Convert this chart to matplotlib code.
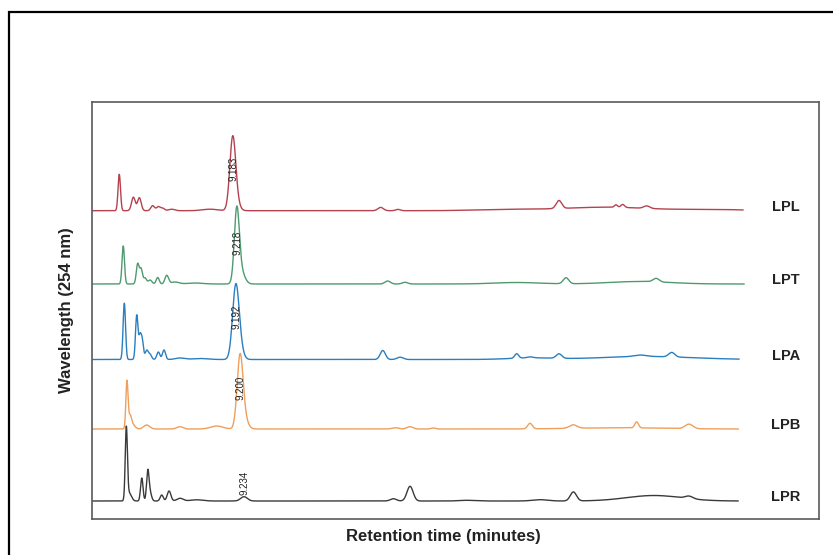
import numpy as np
import matplotlib
matplotlib.use("Agg")
import matplotlib.pyplot as plt
from matplotlib.patches import Rectangle

plt.rcParams['font.family'] = ['Liberation Sans', 'DejaVu Sans']

# ---------------- data ----------------
samples = ["LPL", "LPT", "LPA", "LPB", "LPR"]
colors = ["#b5424f", "#4e9a6e", "#2a7fc0", "#ef9f5c", "#3a3a3a"]
baselines = [308.3, 235.0, 159.5, 90.0, 18.0]       # detector offset of each trace
shifts = [0.0, 0.23, 0.19, 0.46, 0.69]               # stacking skew (min)
run_end = [42.49, 42.33, 42.04, 41.72, 41.48]       # end of each run (min)
main_rt = [9.183, 9.218, 9.192, 9.200, 9.234]       # labelled peak retention times
main_labels = ["9.183", "9.218", "9.192", "9.200", "9.234"]

# peaks: (retention time [min], height, width [min])
lpl_peaks = [(1.78, 36.4, 0.08), (2.70, 13.5, 0.12), (3.09, 13.0, 0.12),
             (3.96, 5.0, 0.12), (4.33, 4.0, 0.12), (4.61, 2.5, 0.12),
             (5.20, 1.5, 0.2), (7.70, 1.5, 0.5),
             (9.183, 70.0, 0.19), (9.40, 8.0, 0.22),
             (18.84, 3.3, 0.18), (19.97, 1.3, 0.15),
             (27.0, 1.2, 2.0), (33.5, 3.5, 2.8), (40.5, 1.2, 2.0),
             (30.48, 8.0, 0.18), (34.20, 2.5, 0.1), (34.64, 3.0, 0.12),
             (36.21, 2.5, 0.2)]
lpt_peaks = [(1.81, 38.0, 0.08), (2.75, 20.0, 0.09), (2.97, 15.0, 0.09),
             (3.23, 6.0, 0.1), (3.56, 4.0, 0.12), (4.06, 6.5, 0.1),
             (4.65, 8.5, 0.12), (5.19, 2.0, 0.25), (6.49, 1.0, 0.5),
             (9.218, 69.0, 0.16), (9.46, 14.0, 0.25),
             (19.07, 3.0, 0.18), (20.20, 1.7, 0.18),
             (27.5, 1.5, 1.5), (35.5, 2.5, 2.0),
             (30.71, 6.0, 0.18), (36.59, 3.5, 0.2)]
lpa_peaks = [(1.92, 56.3, 0.08), (2.73, 44.0, 0.08), (2.94, 22.0, 0.08),
             (3.09, 18.0, 0.08), (3.38, 9.0, 0.1), (3.60, 5.0, 0.1),
             (4.14, 7.5, 0.1), (4.51, 9.5, 0.1), (5.55, 1.5, 0.3),
             (6.86, 1.0, 0.5),
             (9.192, 71.0, 0.21), (9.46, 10.0, 0.22),
             (18.79, 9.0, 0.17), (19.92, 2.3, 0.2),
             (28.5, 1.5, 1.5), (36.0, 3.0, 3.0),
             (27.53, 4.5, 0.13), (28.40, 1.0, 0.2), (30.29, 4.5, 0.18),
             (35.58, 1.5, 0.4), (37.65, 4.5, 0.2)]
lpb_peaks = [(1.82, 47.0, 0.07), (2.02, 12.0, 0.1), (2.21, 4.0, 0.15),
             (3.11, 4.0, 0.2), (5.28, 2.3, 0.2), (7.68, 3.0, 0.4),
             (9.200, 69.0, 0.19), (9.45, 11.0, 0.24),
             (19.32, 1.3, 0.2), (20.29, 2.3, 0.2), (21.82, 1.0, 0.15),
             (28.13, 5.5, 0.15), (30.95, 3.5, 0.25), (35.09, 6.0, 0.12),
             (34.0, 1.2, 3.0), (38.51, 4.5, 0.25)]
lpr_peaks = [(1.55, 71.0, 0.07), (1.73, 8.0, 0.15), (2.56, 23.0, 0.08),
             (2.95, 29.0, 0.08), (3.10, 8.0, 0.1), (3.86, 6.0, 0.1),
             (4.34, 10.0, 0.12), (5.06, 2.7, 0.2), (6.15, 1.2, 0.4),
             (9.234, 4.3, 0.22),
             (18.98, 2.3, 0.2), (20.07, 14.7, 0.2), (23.77, 0.7, 0.5),
             (28.56, 1.3, 0.5), (30.73, 9.0, 0.2), (36.0, 5.5, 1.8),
             (38.28, 2.5, 0.25)]
all_peaks = [lpl_peaks, lpt_peaks, lpa_peaks, lpb_peaks, lpr_peaks]

# ---------------- figure ----------------
W, H = 833, 555
fig = plt.figure(figsize=(W / 100, H / 100), dpi=100)
fig.patch.set_facecolor("white")

# outer frame
fig.patches.append(Rectangle((8.5 / W, -0.05), 1.2, 1 - 12 / H + 0.05,
                             transform=fig.transFigure, fill=False,
                             edgecolor="black", linewidth=1.6, zorder=0))

ax = fig.add_axes([92 / W, 1 - 519 / H, (819 - 92) / W, (519 - 102) / H])
for s in ax.spines.values():
    s.set_color("#5a5a5a")
    s.set_linewidth(1.2)
ax.set_xticks([])
ax.set_yticks([])
ax.set_xlim(0, (819 - 92) / 15.32)
ax.set_ylim(0, 417)


def trace(peaks, t):
    y = np.zeros_like(t)
    for rt, h, w in peaks:
        y += h * np.exp(-0.5 * ((t - rt) / w) ** 2)
    return y


for name, col, base, sh, end, rt, lab, peaks in zip(
        samples, colors, baselines, shifts, run_end, main_rt, main_labels, all_peaks):
    t = np.linspace(-sh, end, 6000)
    y = base + trace(peaks, t)
    ax.plot(t + sh, y, color=col, lw=1.0, solid_joinstyle="round")
    hmain = max(h for r, h, w in peaks if abs(r - rt) < 1e-6)
    ly = base + 0.6 * hmain if hmain > 20 else base + hmain + 14
    ax.text(rt + sh + 0.05, ly, lab, rotation=90, ha="center", va="center",
            fontsize=7, color="#222222")
    ax.text(45.3, base + 4, name, ha="center", va="center", fontsize=10.5,
            fontweight="bold", color="#222222")

fig.text(67 / W, 1 - 310 / H, "Wavelength (254 nm)", rotation=90,
         ha="center", va="center", fontsize=12, fontweight="bold", color="#222222")
fig.text(443 / W, 1 - 536 / H, "Retention time (minutes)",
         ha="center", va="center", fontsize=12, fontweight="bold", color="#222222")

fig.savefig("out.png", dpi=100)
